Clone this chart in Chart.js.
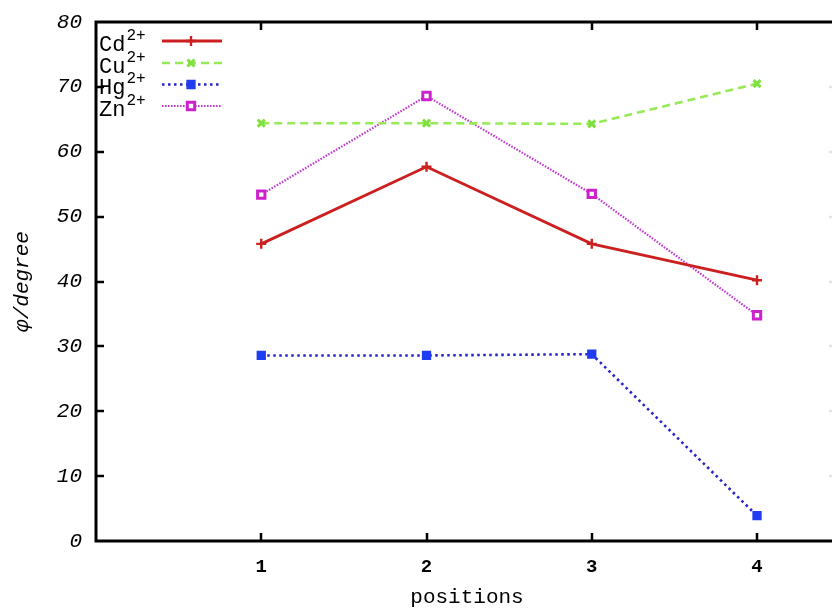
<!DOCTYPE html>
<html><head><meta charset="utf-8">
<script src="https://cdn.jsdelivr.net/npm/chart.js@4/dist/chart.umd.min.js"></script>
<style>
html,body{margin:0;padding:0;background:#fff;overflow:hidden;width:832px;height:608px}
#wrap{width:850px;height:608px;position:relative}
</style></head>
<body><div id="wrap"><canvas id="c"></canvas></div>
<script>
// ---- data ----
const positions = [1, 2, 3, 4];
const cd = [45.8, 57.7, 45.8, 40.2];
const cu = [64.4, 64.4, 64.3, 70.5];
const hg = [28.6, 28.6, 28.8, 3.9];
const zn = [53.4, 68.6, 53.5, 34.8];
const ionNames = ['Cd', 'Cu', 'Hg', 'Zn'];
const ionCharge = '2+';
const xTickValues = [1, 2, 3, 4];
const yTickValues = [0, 10, 20, 30, 40, 50, 60, 70, 80];
const xTitle = 'positions';
const yTitle = 'φ/degree';

// ---- styles ----
const styles = [
  {color:'#cc1f1f', dash:[], width:2.8, point:'cross', r:5, pw:2.4, bg:'#cc1f1f', pc:'#cc1f1f'},
  {color:'#96ea55', dash:[8,5], width:2.6, point:'crossRot', r:5, pw:3, bg:'#96ea55', pc:'#7fe040'},
  {color:'#2424c8', dash:[2.5,3.5], width:2.6, point:'rect', r:5.5, pw:1.5, bg:'#1f3cf0', pc:'#1f3cf0'},
  {color:'#c23bd2', dash:[1.6,1.4], width:2.2, point:'rect', r:5.2, pw:3, bg:'#ffffff', pc:'#cc22cc'}
];
const seriesValues = [cd, cu, hg, zn];

const datasets = seriesValues.map((vals, i) => ({
  label: ionNames[i] + '²⁺',
  data: positions.map((p, k) => ({x: p, y: vals[k]})),
  borderColor: styles[i].color,
  backgroundColor: styles[i].bg,
  borderWidth: styles[i].width,
  borderDash: styles[i].dash,
  pointStyle: styles[i].point,
  pointRadius: styles[i].r,
  pointBorderWidth: styles[i].pw,
  pointBorderColor: styles[i].pc,
  pointBackgroundColor: styles[i].bg,
  tension: 0,
  fill: false
}));

const MONO = "'Liberation Mono', 'DejaVu Sans Mono', monospace";

const framePlugin = {
  id: 'frame',
  afterDatasetsDraw(chart) {
    const {ctx, chartArea: a, scales} = chart;
    const xs = scales.x, ys = scales.y;
    ctx.save();
    ctx.strokeStyle = '#000';
    ctx.lineWidth = 3;
    ctx.beginPath();
    ctx.moveTo(a.right, a.top); ctx.lineTo(a.left, a.top);
    ctx.lineTo(a.left, a.bottom); ctx.lineTo(a.right, a.bottom);
    ctx.stroke();
    // inward ticks
    ctx.lineWidth = 2.5;
    ctx.beginPath();
    xTickValues.forEach(v => {
      const px = Math.round(xs.getPixelForValue(v));
      ctx.moveTo(px, a.bottom); ctx.lineTo(px, a.bottom - 8);
      ctx.moveTo(px, a.top); ctx.lineTo(px, a.top + 8);
    });
    yTickValues.forEach(v => {
      if (v === 0 || v === 80) return;
      const py = Math.round(ys.getPixelForValue(v));
      ctx.moveTo(a.left, py); ctx.lineTo(a.left + 8, py);
    });
    ctx.stroke();
    ctx.strokeStyle = '#e4e4e4';
    ctx.beginPath();
    yTickValues.forEach(v => {
      if (v === 0 || v === 80) return;
      const py = Math.round(ys.getPixelForValue(v));
      ctx.moveTo(a.right, py); ctx.lineTo(a.right - 9, py);
    });
    ctx.stroke();
    ctx.restore();
  },
  afterDraw(chart) {
    const {ctx} = chart;
    ctx.save();
    const rowY = [41, 63, 84.5, 106];
    chart.data.datasets.forEach((ds, i) => {
      const y = rowY[i];
      ctx.fillStyle = '#000';
      ctx.textBaseline = 'middle';
      ctx.textAlign = 'left';
      ctx.font = '22px ' + MONO;
      ctx.fillText(ionNames[i], 99, y + 4);
      const w = ctx.measureText(ionNames[i]).width;
      ctx.font = '16px ' + MONO;
      ctx.fillText(ionCharge, 99 + w + 1, y - 5.5);
      // sample line
      ctx.strokeStyle = ds.borderColor;
      ctx.lineWidth = ds.borderWidth;
      ctx.setLineDash(ds.borderDash);
      ctx.beginPath();
      ctx.moveTo(162, y); ctx.lineTo(222, y);
      ctx.stroke();
      ctx.setLineDash([]);
      ctx.strokeStyle = ds.pointBorderColor;
      ctx.fillStyle = ds.pointBackgroundColor;
      ctx.lineWidth = ds.pointBorderWidth;
      Chart.helpers.drawPoint(ctx, {pointStyle: ds.pointStyle, radius: ds.pointRadius, borderWidth: ds.pointBorderWidth, rotation: 0}, 191, y);
    });
    ctx.restore();
  }
};

new Chart(document.getElementById('c'), {
  type: 'line',
  data: {datasets},
  options: {
    responsive: true,
    maintainAspectRatio: false,
    animation: false,
    layout: {padding: {top: 22, right: 12, left: 0, bottom: 0}},
    plugins: {legend: {display: false}, tooltip: {enabled: false}},
    scales: {
      x: {
        type: 'linear', min: 0, max: 4.49,
        afterFit(s) { s.height = 67; s.paddingLeft = 0; s.paddingRight = 0; },
        afterBuildTicks(s) { s.ticks = xTickValues.map(v => ({value: v})); },
        grid: {display: false, drawTicks: false},
        border: {display: false},
        ticks: {padding: 15, color: '#000', font: {family: MONO, size: 19, weight: 'bold'}, maxRotation: 0},
        title: {display: true, text: xTitle, color: '#000', font: {family: MONO, size: 21, lineHeight: 1}, padding: {top: 0, bottom: 0}}
      },
      y: {
        type: 'linear', min: 0, max: 80,
        afterFit(s) { s.width = 96; s.paddingTop = 0; s.paddingBottom = 0; },
        afterBuildTicks(s) { s.ticks = yTickValues.map(v => ({value: v})); },
        grid: {display: false, drawTicks: false},
        border: {display: false},
        ticks: {padding: 14, color: '#000', font: {family: MONO, size: 21, style: 'italic'}},
        title: {display: true, text: yTitle, color: '#000', font: {family: MONO, size: 21, style: 'italic', lineHeight: 1}, padding: {top: 12, bottom: 0}}
      }
    }
  },
  plugins: [framePlugin]
});
</script>
</body></html>
